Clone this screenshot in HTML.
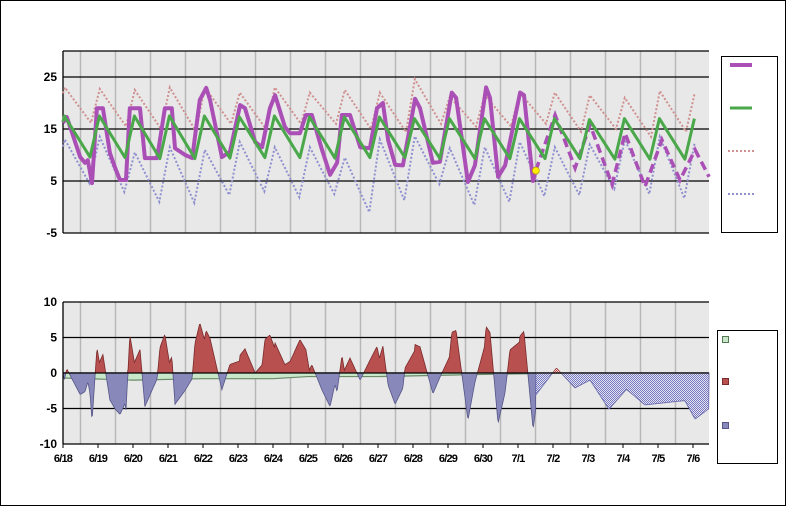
<!DOCTYPE html>
<html><head><meta charset="utf-8">
<style>
html,body{margin:0;padding:0;background:#fff;}
svg{display:block;font-family:"Liberation Sans",Arial,sans-serif;}
.yl{font-size:12px;font-weight:bold;text-anchor:end;}
.xl{font-size:11px;font-weight:bold;text-anchor:middle;letter-spacing:-0.8px;}
</style></head>
<body>
<svg id="c" width="787" height="507" viewBox="0 0 787 507" xmlns="http://www.w3.org/2000/svg">
<defs>
<pattern id="hatchB" width="2" height="2" patternUnits="userSpaceOnUse"><rect width="2" height="2" fill="#e4e4f2"/><rect width="1" height="1" fill="#7878c0"/><rect x="1" y="1" width="1" height="1" fill="#7878c0"/></pattern>
<pattern id="hatchR" width="2" height="2" patternUnits="userSpaceOnUse"><rect width="2" height="2" fill="#f2dede"/><rect width="1" height="1" fill="#c04040"/><rect x="1" y="1" width="1" height="1" fill="#c04040"/></pattern>
</defs>
<rect x="0.5" y="0.5" width="785" height="505" fill="#fff" stroke="#000"/>
<g id="topg"></g>
<g id="botg"></g>
<rect x="721.5" y="56.5" width="56" height="176" fill="#fff" stroke="#000"/>
<line x1="730" y1="65" x2="752" y2="65" stroke="#aa4fb5" stroke-width="4"/>
<line x1="730" y1="108" x2="752" y2="108" stroke="#4aa84a" stroke-width="3"/>
<line x1="728" y1="151" x2="755" y2="151" stroke="#d09090" stroke-width="2" stroke-dasharray="2,2"/>
<line x1="728" y1="194" x2="755" y2="194" stroke="#9090d0" stroke-width="2" stroke-dasharray="2,2"/>
<rect x="717.5" y="330.5" width="60" height="133" fill="#fff" stroke="#000"/>
<rect x="722.5" y="336.5" width="6" height="6" fill="#c8e6c8" stroke="#557755"/>
<rect x="722.5" y="378.5" width="6" height="6" fill="#b85050" stroke="#7a2a2a"/>
<rect x="722.5" y="422.5" width="6" height="6" fill="#8888bb" stroke="#555588"/>
</svg>
<script>
const dayLabels=["6/18","6/19","6/20","6/21","6/22","6/23","6/24","6/25","6/26","6/27","6/28","6/29","6/30","7/1","7/2","7/3","7/4","7/5","7/6"];
const topTicks=[25,15,5,-5];
const botTicks=[10,5,0,-5,-10];
// observed (days since 6/18 00h, degC)
const obsT=[0,.11,.49,.63,.71,.83,.97,1.14,1.34,1.49,1.63,1.8,1.91,2.2,2.34,2.69,2.91,3.11,3.2,3.49,3.69,3.91,4.09,4.2,4.54,4.77,5.06,5.2,5.49,5.69,5.91,6.06,6.34,6.49,6.77,6.94,7.11,7.4,7.63,7.83,7.97,8.2,8.49,8.77,8.97,9.14,9.29,9.49,9.71,10.06,10.2,10.57,10.77,11.11,11.23,11.57,11.77,12.09,12.2,12.43,12.63,13.06,13.17,13.43,13.51];
const obsV=[16.2,17.3,9.6,8.5,9,4.6,19,19,10.4,7.5,5.2,5.2,19,19,9.4,9.4,19,19,11.3,10,9.4,20.6,22.9,20.6,9.6,10.6,19.6,19,12.5,11.5,19,21.5,15.4,14.2,14.2,17.7,17.7,11,6.2,8.5,17.7,17.7,11.5,11.3,19,20,12.9,8.1,8,20.8,19,8.5,8.7,22,21,4.8,8,23,21,5.8,8,22,21.5,5,7];
// forecast
const fcT=[13.51,14.06,14.63,15.06,15.69,16.06,16.63,17.11,17.63,18.06,18.46];
const fcV=[7,17.7,7.5,15.8,4.3,14.2,3.9,12.9,5.2,11,5.8];
// daily normal peak / trough
const normHigh=[17.5,17.5,17.5,17.5,17.5,17.3,17.5,17.3,17.3,17.3,17,17,17,17,17,16.8,17,17,17];
const normLow=[9.6,9.5,9.3,9.3,9.4,9.5,9.5,9.4,9.5,9.5,9.3,9.3,9.3,9.3,9.3,9.2,9.2,9.2,10.5];
// record high peak / trough
const recHigh=[23,22.7,22.5,23,23,22,23,22,22.5,22,24.6,21.2,21.5,22,22,21.5,21,22.3,22];
const recHighLow=[16.2,15.5,15,14.5,16,15,16,16,15,14.4,16,15.5,15.5,16,14.5,15,13.5,14.5,16];
// record low peak / trough
const recLow=[13,13.5,10.5,11.5,11,12.5,11.5,11.5,9.5,13,13.6,11.3,11.5,12.5,11.5,12,13,13.5,12.5];
const recLowLow=[4.6,2.9,1,0.8,2.3,3,1.9,2.5,-1,1.3,4.4,0.4,1,2.1,2.3,3.5,2.5,1.7,4];
// mean departure line
const meanT=[0,2,4,6,7,9,10,11,12,13.51];
const meanV=[-0.7,-1,-0.8,-0.8,-0.5,-0.5,-0.4,-0.3,-0.2,-0.1];
// forecast departure
const fdT=[13.51,14.1,14.63,15.06,15.6,16.1,16.63,17.54,17.77,18.06,18.46];
const fdV=[-3.1,0.7,-2.1,-1,-5.1,-2.3,-4.5,-4,-3.9,-6.5,-5];

const NS="http://www.w3.org/2000/svg";
const X0=63,DX=35,XR=709;
const x=t=>X0+DX*t;
const yT=v=>129-(v-15)*5.2;
const yB=v=>373-v*7.1;
function mk(tag,attrs,parent){const e=document.createElementNS(NS,tag);for(const k in attrs)e.setAttribute(k,attrs[k]);parent.appendChild(e);return e;}
function interp(T,V,t){if(t<=T[0])return V[0];for(let i=1;i<T.length;i++){if(t<=T[i]){const f=(t-T[i-1])/(T[i]-T[i-1]);return V[i-1]+f*(V[i]-V[i-1]);}}return V[V.length-1];}
function daily(hi,lo,pk,tr){const T=[],V=[];for(let d=0;d<hi.length;d++){if(d===0){T.push(0);V.push(interp([-0.25,pk],[lo[0],hi[0]],0));}T.push(d+pk);V.push(hi[d]);if(d+tr<=18.57){T.push(d+tr);V.push(lo[d]);}}return [T,V];}
const [nT,nV]=daily(normHigh,normLow,0.04,0.77);
const [rhT,rhV]=daily(recHigh,recHighLow,0.05,0.8);
const [rlT,rlV]=daily(recLow,recLowLow,0.05,0.75);
function clipPts(T,V,yf){const p=[];for(let i=0;i<T.length;i++){if(T[i]<=18.6)p.push(x(Math.min(T[i],18.57)).toFixed(1)+","+yf(V[i]).toFixed(1));}return p.join(" ");}

const gTop=document.getElementById('topg'),gBot=document.getElementById('botg');
let e=mk('rect',{x:X0,y:51,width:XR-X0,height:182,fill:'#e8e8e8'},gTop);


for(let d=0;d<19;d++){const xx=x(d+0.5);if(xx<=XR+1){e=mk('line',{x1:xx,y1:51,x2:xx,y2:233,stroke:'#b8b8b8','stroke-width':1.5},gTop);

}}
topTicks.forEach(v=>{e=mk('line',{x1:X0,y1:yT(v),x2:XR,y2:yT(v),stroke:'#000','stroke-width':1.3},gTop);


e=mk('text',{x:57,y:yT(v)+4,class:'yl'},gTop);e.textContent=v;

});
e=mk('line',{x1:X0,y1:51,x2:XR,y2:51,stroke:'#000','stroke-width':1.3},gTop);


e=mk('line',{x1:X0,y1:51,x2:X0,y2:233,stroke:'#000','stroke-width':1.3},gTop);


e=mk('polyline',{points:clipPts(rhT,rhV,yT),fill:'none',stroke:'#d09090','stroke-width':2,'stroke-dasharray':'2,2'},gTop);


e=mk('polyline',{points:clipPts(rlT,rlV,yT),fill:'none',stroke:'#9090d0','stroke-width':2,'stroke-dasharray':'2,2'},gTop);


e=mk('polyline',{points:clipPts(obsT,obsV,yT),fill:'none',stroke:'#aa4fb5','stroke-width':4,'stroke-linejoin':'round'},gTop);


e=mk('polyline',{points:clipPts(fcT,fcV,yT),fill:'none',stroke:'#aa4fb5','stroke-width':3.5,'stroke-dasharray':'9,5'},gTop);


e=mk('polyline',{points:clipPts(nT,nV,yT),fill:'none',stroke:'#4aa84a','stroke-width':3,'stroke-linejoin':'round'},gTop);


e=mk('circle',{cx:x(obsT[obsT.length-1]),cy:yT(obsV[obsV.length-1]),r:3.5,fill:'#ffee00',stroke:'#c0a000','stroke-width':0.8},gTop);



e=mk('rect',{x:X0,y:302,width:XR-X0,height:142,fill:'#e8e8e8'},gBot);


for(let d=0;d<19;d++){const xx=x(d+0.5);if(xx<=XR+1){e=mk('line',{x1:xx,y1:302,x2:xx,y2:444,stroke:'#b8b8b8','stroke-width':1.5},gBot);

}}
botTicks.forEach(v=>{e=mk('line',{x1:X0,y1:yB(v),x2:XR,y2:yB(v),stroke:'#000','stroke-width':1.3},gBot);


e=mk('text',{x:57,y:yB(v)+4,class:'yl'},gBot);e.textContent=v;

});
let mp=[x(0)+","+yB(0)];meanT.forEach((t,i)=>mp.push(x(t)+","+yB(meanV[i])));mp.push(x(meanT[meanT.length-1])+","+yB(0));
e=mk('polygon',{points:mp.join(" "),fill:'#c8e6c8'},gBot);


e=mk('polyline',{points:meanT.map((t,i)=>x(t)+","+yB(meanV[i])).join(" "),fill:'none',stroke:'#6a8a6a','stroke-width':1.2},gBot);


function depArea(T,fn,sign,fill,stroke){const tEnd=T[T.length-1];const pts=[x(T[0])+","+yB(0)];for(let t=T[0];t<=tEnd+1e-9;t+=0.02){let d=fn(t);d=sign>0?Math.max(d,0):Math.min(d,0);pts.push(x(t).toFixed(1)+","+yB(d).toFixed(1));}pts.push(x(tEnd)+","+yB(0));return mk('polygon',{points:pts.join(" "),fill:fill,stroke:stroke,'stroke-width':0.8},gBot);}
const depFn=t=>interp(obsT,obsV,t)-interp(nT,nV,t);
e=depArea(obsT,depFn,-1,'#8888bb','#555588');


e=depArea(obsT,depFn,1,'#b85050','#7a2a2a');


const fdFn=t=>interp(fdT,fdV,t);
e=depArea(fdT,fdFn,-1,'url(#hatchB)','#6666aa');


e=depArea(fdT,fdFn,1,'url(#hatchR)','#a04040');


e=mk('line',{x1:X0,y1:yB(0),x2:XR,y2:yB(0),stroke:'#000','stroke-width':1.3},gBot);


e=mk('line',{x1:X0,y1:302,x2:X0,y2:444,stroke:'#000','stroke-width':1.3},gBot);


dayLabels.forEach((l,d)=>{e=mk('line',{x1:x(d),y1:444,x2:x(d),y2:448,stroke:'#000'},gBot);


e=mk('text',{x:x(d),y:462,class:'xl'},gBot);e.textContent=l;

});
</script>
</body></html>
